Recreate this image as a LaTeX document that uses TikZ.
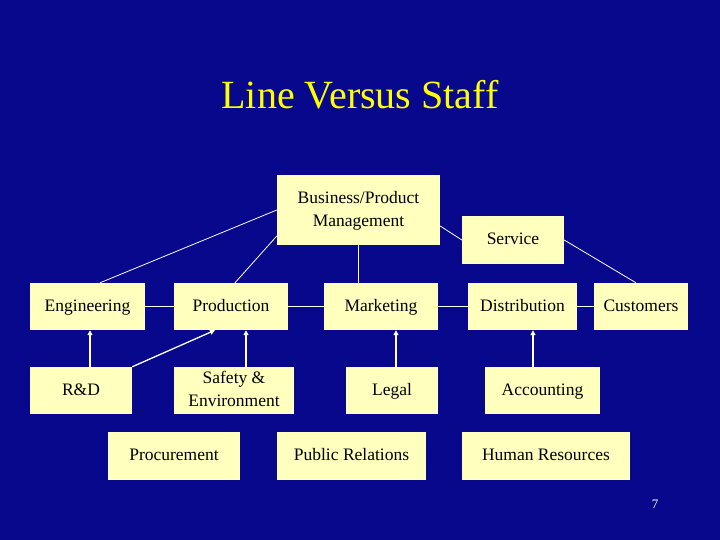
\documentclass[tikz,border=0pt]{standalone}
\usepackage{fontspec}
\setmainfont{Liberation Serif}
\usetikzlibrary{arrows.meta}
\definecolor{bg}{RGB}{8,8,140}
\definecolor{bx}{RGB}{255,255,190}
\definecolor{ttl}{RGB}{255,255,0}
\begin{document}
\begin{tikzpicture}[x=1pt,y=-1pt,
  bx/.style={fill=bx,inner sep=0pt,align=center,font=\fontsize{17.5}{23}\selectfont,text=black},
  ln/.style={draw=white,line width=0.8pt},
  ar/.style={draw=white,line width=1.3pt,-{Triangle[width=5pt,length=5pt]}}]
\fill[bg] (0,0) rectangle (720,540);
\useasboundingbox (0,0) rectangle (720,540);
\node[font=\fontsize{40}{44}\selectfont,text=ttl] (title) at (360,95) {Line Versus Staff};
\newcommand\bxn[6]{\node[bx,minimum width={#4-#3},minimum height={#6-#5}] (#1) at ({(#3+#4)/2},{(#5+#6)/2}) {\strut#2};}
\bxn{bpm}{Business/Product\\\strut Management}{277}{440}{175}{245}
\bxn{svc}{Service}{462}{564}{216}{264}
\bxn{eng}{Engineering}{30}{145}{283}{330}
\bxn{prd}{Production}{174}{288}{283}{330}
\bxn{mkt}{Marketing}{324}{438}{283}{330}
\bxn{dst}{Distribution}{468}{577}{283}{330}
\bxn{cus}{Customers}{594}{688}{283}{330}
\bxn{rd}{R\&D}{30}{132}{367}{414}
\bxn{saf}{Safety \&\\\strut Environment}{174}{294}{367}{414}
\bxn{leg}{Legal}{346}{438}{367}{414}
\bxn{acc}{Accounting}{485}{600}{367}{414}
\bxn{pro}{Procurement}{108}{240}{432}{480}
\bxn{pr}{Public Relations}{277}{426}{432}{480}
\bxn{hr}{Human Resources}{462}{630}{432}{480}
\node[font=\fontsize{13}{14}\selectfont,text=white] (pg) at (655,504) {7};
\draw[ln] (bpm.west |- 0,210) -- (eng.north -| 100,0);
\draw[ln] (bpm.west |- 0,236) -- (prd.north -| 235,0);
\draw[ln] (bpm.south) -- (mkt.north -| bpm.south);
\draw[ln] (bpm.east |- 0,226) -- (svc.west |- 0,240);
\draw[ln] (svc.east |- 0,240) -- (cus.north -| 636,0);
\draw[ln] (eng) -- (prd); \draw[ln] (prd) -- (mkt); \draw[ln] (mkt) -- (dst); \draw[ln] (dst) -- (cus);
\draw[ar] (rd.north -| 90,0) -- (eng.south -| 90,0);
\draw[ar] (rd.north east) -- (prd.south -| 215,0);
\draw[ar] (saf.north -| 246,0) -- (prd.south -| 246,0);
\draw[ar] (leg.north -| 396,0) -- (mkt.south -| 396,0);
\draw[ar] (acc.north -| 533,0) -- (dst.south -| 533,0);
\end{tikzpicture}
\end{document}
